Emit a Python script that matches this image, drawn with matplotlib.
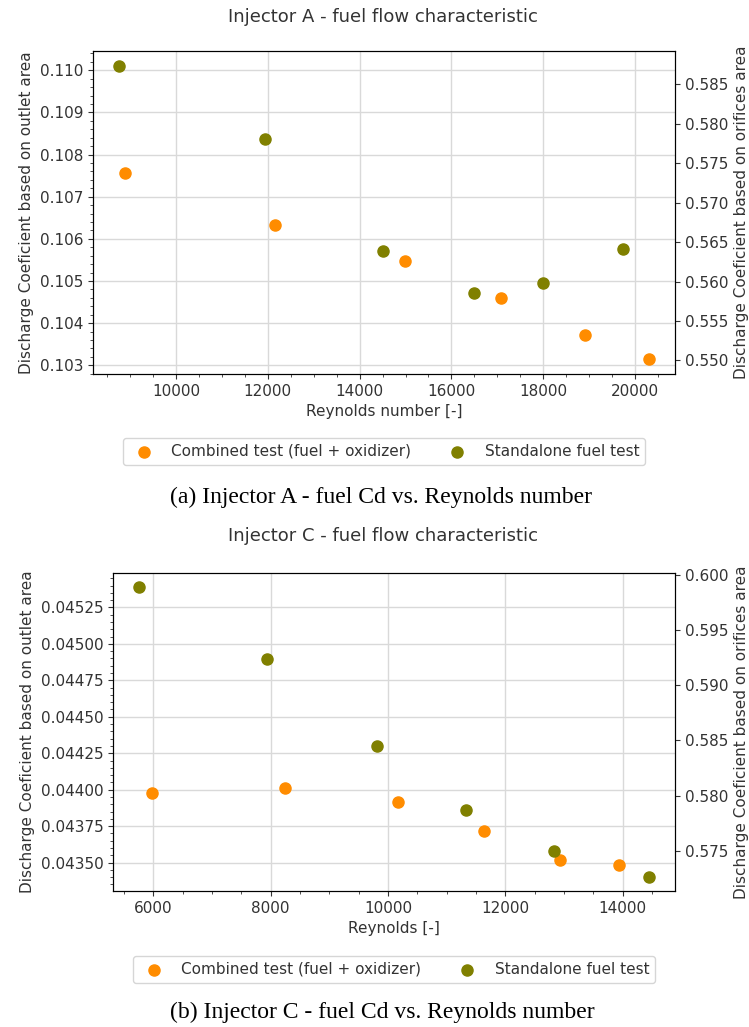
import matplotlib
matplotlib.use("Agg")
import matplotlib.pyplot as plt
from matplotlib.ticker import ScalarFormatter

# Injector A - Reynolds number and Cd (outlet area based)
re_a_comb = [8896, 12167, 14979, 17084, 18917, 20292]
cd_a_comb = [0.107573, 0.106328, 0.105464, 0.104600, 0.103727, 0.103140]
re_a_solo = [8771, 11948, 14510, 16500, 18000, 19729]
cd_a_solo = [0.110110, 0.108366, 0.105718, 0.104703, 0.104956, 0.105749]
ratio_a = 5.334  # orifice area Cd / outlet area Cd

# Injector C
re_c_comb = [5984, 8244, 10163, 11642, 12937, 13935]
cd_c_comb = [0.043977, 0.044009, 0.043915, 0.043717, 0.043518, 0.043486]
re_c_solo = [5747, 7935, 9804, 11332, 12831, 14456]
cd_c_solo = [0.045387, 0.044894, 0.044301, 0.043863, 0.043582, 0.043404]
ratio_c = 13.194

plt.rcParams['font.size'] = 11

fig = plt.figure(figsize=(7.49, 10.27), dpi=100)
W, H = 749, 1027


def px_axes(left, top, right, bottom):
    return fig.add_axes([left / W, 1 - bottom / H, (right - left) / W, (bottom - top) / H])


def injector_plot(ax, re_comb, cd_comb, re_solo, cd_solo, ratio, xlabel, title, title_y, leg_y):
    ax.scatter(re_comb, cd_comb, s=64, color='darkorange', label='Combined test (fuel + oxidizer)', zorder=3)
    ax.scatter(re_solo, cd_solo, s=64, color='olive', label='Standalone fuel test', zorder=3)
    ax.grid(True, color='#d9d9d9', linewidth=1)
    ax.set_axisbelow(True)
    ax.minorticks_on()
    fmt = ScalarFormatter(useOffset=False)
    ax.yaxis.set_major_formatter(fmt)
    ax.set_xlabel(xlabel, color='#333333')
    ax.set_ylabel('Discharge Coeficient based on outlet area', color='#333333')
    ax2 = ax.twinx()
    lo, hi = ax.get_ylim()
    ax2.set_ylim(lo * ratio, hi * ratio)
    ax2.set_ylabel('Discharge Coeficient based on orifices area', color='#333333')
    for a in (ax, ax2):
        a.tick_params(colors='#333333', labelcolor='#333333', which='both')
    ax.legend(loc='upper center', bbox_to_anchor=(0.5, leg_y), ncol=2, fontsize=11, labelcolor='#333333')
    fig.text(383 / W, 1 - title_y / H, title, ha='center', va='center', fontsize=13, color='#333333')


ax_a = px_axes(93, 51, 675, 374)
injector_plot(ax_a, re_a_comb, cd_a_comb, re_a_solo, cd_a_solo, ratio_a,
              'Reynolds number [-]', 'Injector A - fuel flow characteristic', 17, -0.173)

ax_c = px_axes(113, 573, 675, 891)
injector_plot(ax_c, re_c_comb, cd_c_comb, re_c_solo, cd_c_solo, ratio_c,
              'Reynolds [-]', 'Injector C - fuel flow characteristic', 536, -0.179)

cap_font = dict(family='Liberation Serif', fontsize=17, ha='center', va='center', color='black')
fig.text(381 / W, 1 - 497 / H, '(a) Injector A - fuel Cd vs. Reynolds number', **cap_font)
fig.text(382 / W, 1 - 1012 / H, '(b) Injector C - fuel Cd vs. Reynolds number', **cap_font)

fig.savefig('out.png', dpi=100)
